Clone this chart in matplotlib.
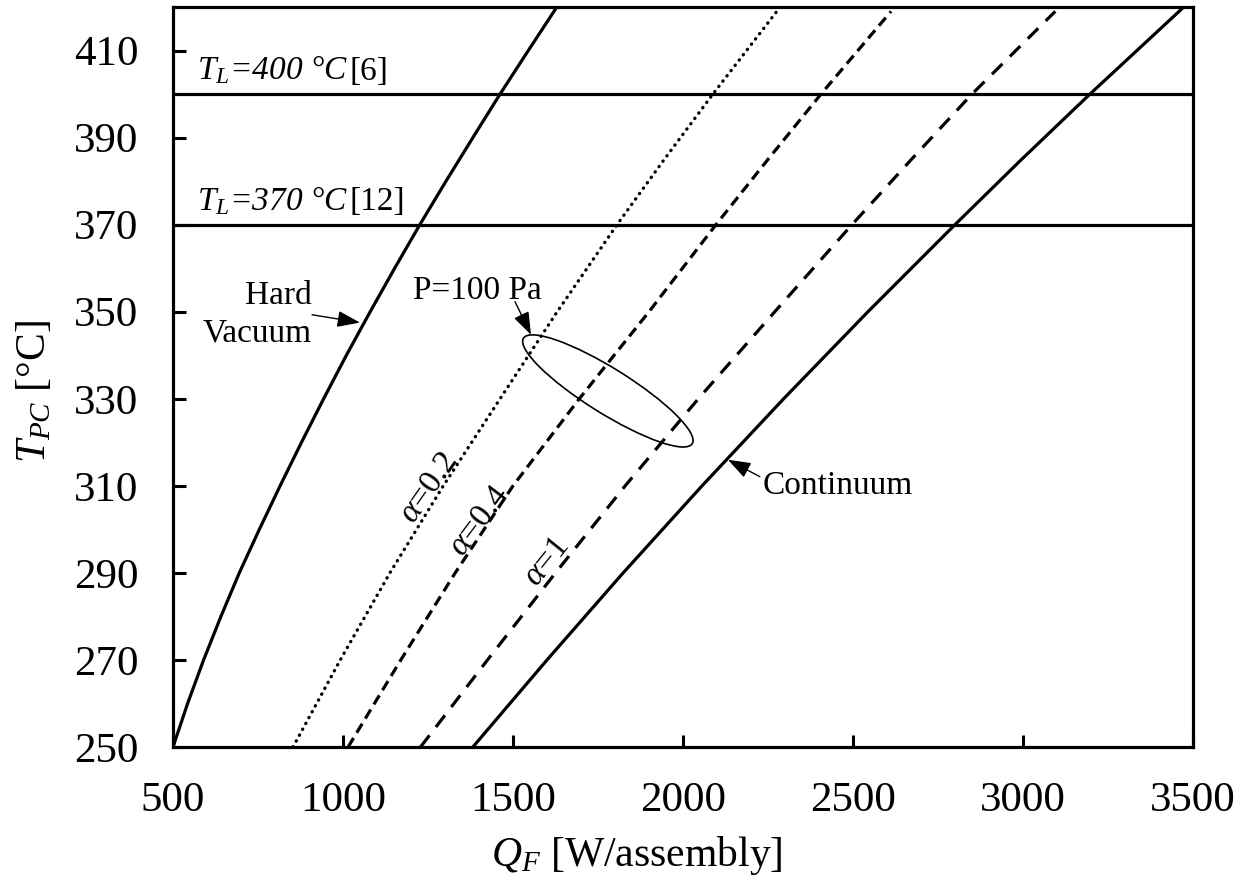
import numpy as np
import matplotlib
matplotlib.use("Agg")
import matplotlib.pyplot as plt
from matplotlib.patches import Ellipse
from matplotlib import transforms

plt.rcParams['font.family'] = ['Liberation Serif', 'DejaVu Serif']
plt.rcParams['mathtext.fontset'] = 'custom'
plt.rcParams['mathtext.rm'] = 'Liberation Serif'
plt.rcParams['mathtext.it'] = 'Liberation Serif:italic'

# curves: temperature T_PC [C] vs heat load Q_F [W/assembly]
hard_T = [250, 260, 270, 280, 290, 300, 310, 320, 330, 340, 350, 360, 370, 380, 390, 400, 410, 420]
hard_Q = [500, 543, 590, 641, 695, 754, 815, 878, 943, 1010, 1080, 1152, 1226, 1303, 1382, 1462, 1545, 1629]

a02_T = [250, 270, 290, 310, 330, 350, 370, 385, 400, 419]
a02_Q = [853, 992, 1138, 1295, 1462, 1630, 1806, 1945, 2088, 2276]

a04_T = [250, 270, 290, 310, 330, 350, 370, 385, 400, 419]
a04_Q = [1015, 1170, 1330, 1500, 1695, 1900, 2097, 2250, 2406, 2612]

a1_T = [250, 270, 290, 310, 330, 350, 370, 385, 400, 419]
a1_Q = [1228, 1425, 1625, 1830, 2045, 2270, 2497, 2672, 2850, 3095]

cont_T = [250, 270, 290, 310, 330, 350, 370, 385, 400, 420]
cont_Q = [1382, 1600, 1824, 2056, 2296, 2544, 2800, 2996, 3197, 3473]

limit_T = [400, 370]
limit_lbl = ['400', '370']
limit_ref = ['[6]', '[12]']

x_ticks = [500, 1000, 1500, 2000, 2500, 3000, 3500]
y_ticks = [250, 270, 290, 310, 330, 350, 370, 390, 410]

fig = plt.figure(figsize=(12.49, 8.81), dpi=100)
ax = fig.add_axes([173/1249, 1 - 747/881, 1020/1249, 740/881])

lw = 2.3
ax.plot(hard_Q, hard_T, color='k', lw=lw)
ax.plot(a02_Q, a02_T, color='k', lw=2.4, linestyle=(0, (0.1, 1.9)), dash_capstyle='round')
ax.plot(a04_Q, a04_T, color='k', lw=lw, linestyle=(0, (3.3, 1.9)))
ax.plot(a1_Q, a1_T, color='k', lw=lw, linestyle=(0, (4.6, 3.3)))
ax.plot(cont_Q, cont_T, color='k', lw=lw)

for t in limit_T:
    ax.axhline(t, color='k', lw=lw)

ax.set_xlim(500, 3500)
ax.set_ylim(250, 420)
ax.set_xticks(x_ticks)
ax.set_yticks(y_ticks)
ax.tick_params(direction='in', length=9, width=2.2, labelsize=31, pad=25)
ax.tick_params(top=False, right=False)
for s in ax.spines.values():
    s.set_linewidth(2.3)

ax.set_xlabel(r'$Q_F$ [W/assembly]', fontsize=30)
ax.xaxis.set_label_coords(0.455, -0.118)
ax.set_ylabel(r'$T_{PC}$ [°C]', fontsize=30)
ax.yaxis.set_label_coords(-0.117, 0.48)

# limit labels
for t, lbl, ref in zip(limit_T, limit_lbl, limit_ref):
    ax.text(571, t + 3.3, r'$T_L$=' + lbl + ' °C', fontsize=24, style='italic', va='baseline')
    ax.text(1018, t + 3.3, ref, fontsize=24, va='baseline')

# curve labels
fs = 24
ax.text(909, 351.8, 'Hard', fontsize=fs, ha='right', va='baseline')
ax.text(909, 343.1, 'Vacuum', fontsize=fs, ha='right', va='baseline')
ax.text(1206, 353.0, 'P=100 Pa', fontsize=fs, va='baseline')
ax.text(2235, 308.2, 'Continuum', fontsize=fs, va='baseline')

ax.text(1253, 309.5, r'$\alpha$=0.2', fontsize=24, rotation=55, ha='center', va='center')
ax.text(1403, 302.0, r'$\alpha$=0.4', fontsize=24, rotation=53, ha='center', va='center')
ax.text(1600, 292.5, r'$\alpha$=1', fontsize=24, rotation=51, ha='center', va='center')

arrow = dict(arrowstyle='-|>,head_length=0.7,head_width=0.25', color='k', lw=1,
             mutation_scale=20, shrinkA=0, shrinkB=0)
ax.annotate('', xy=(1050, 347.5), xytext=(909, 349.3), arrowprops=arrow)
ax.annotate('', xy=(1553, 344.7), xytext=(1506, 352.3), arrowprops=arrow)
ax.annotate('', xy=(2132, 316.0), xytext=(2226, 312.1), arrowprops=arrow)

# ellipse marking P=100 Pa points, size given in inches around a data-point centre
trans = fig.dpi_scale_trans + transforms.ScaledTranslation(1779, 331.8, ax.transData)
ax.add_patch(Ellipse((0, 0), width=1.99, height=0.45, angle=-32, fill=False,
                     edgecolor='k', lw=1.2, transform=trans))

fig.savefig('out.png', dpi=100)
